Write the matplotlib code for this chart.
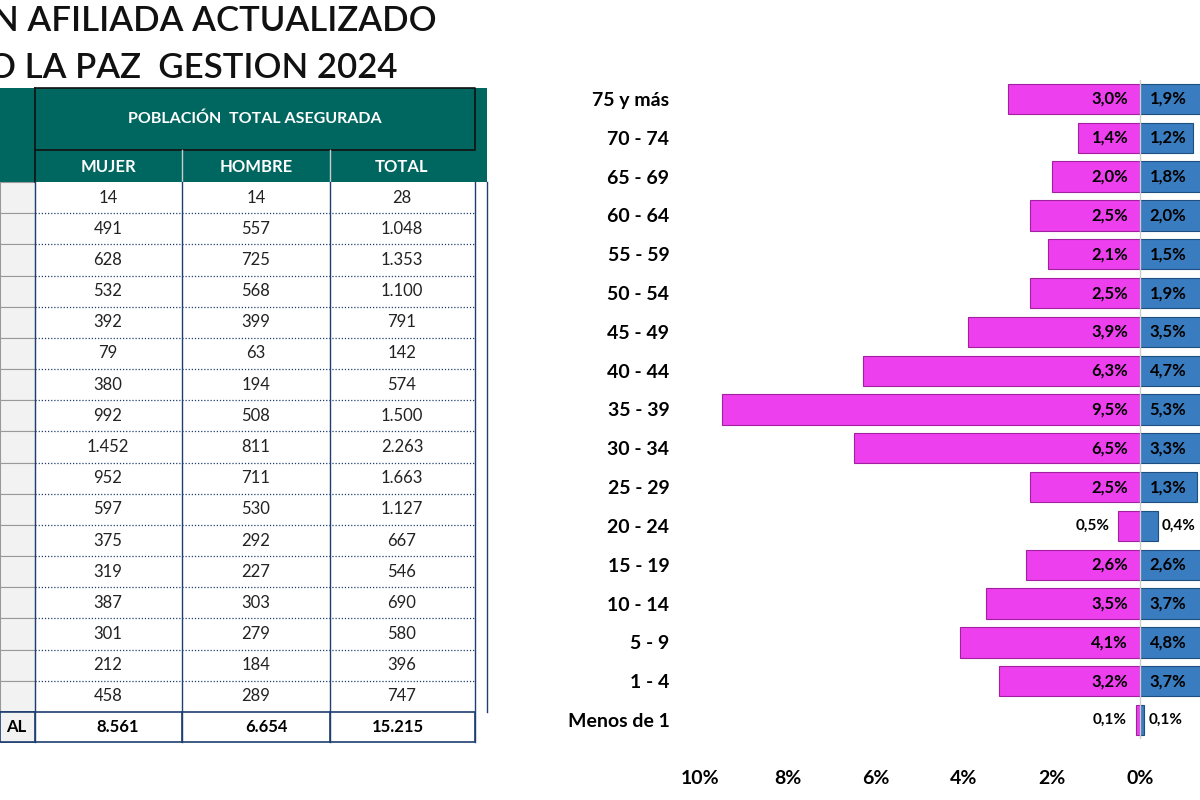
import matplotlib
matplotlib.use("Agg")
import matplotlib.pyplot as plt
from matplotlib.patches import Rectangle

plt.rcParams["font.family"] = "Lato"

AGE_GROUPS = ["75 y más", "70 - 74", "65 - 69", "60 - 64", "55 - 59", "50 - 54", "45 - 49",
              "40 - 44", "35 - 39", "30 - 34", "25 - 29", "20 - 24", "15 - 19", "10 - 14",
              "5 - 9", "1 - 4", "Menos de 1"]
WOMEN_PCT = [3.0, 1.4, 2.0, 2.5, 2.1, 2.5, 3.9, 6.3, 9.5, 6.5, 2.5, 0.5, 2.6, 3.5, 4.1, 3.2, 0.1]
MEN_PCT = [1.9, 1.2, 1.8, 2.0, 1.5, 1.9, 3.5, 4.7, 5.3, 3.3, 1.3, 0.4, 2.6, 3.7, 4.8, 3.7, 0.1]

TABLE_MUJER = [14, 491, 628, 532, 392, 79, 380, 992, 1452, 952, 597, 375, 319, 387, 301, 212, 458]
TABLE_HOMBRE = [14, 557, 725, 568, 399, 63, 194, 508, 811, 711, 530, 292, 227, 303, 279, 184, 289]
TABLE_TOTAL = [28, 1048, 1353, 1100, 791, 142, 574, 1500, 2263, 1663, 1127, 667, 546, 690, 580, 396, 747]
TOTALS = [8561, 6654, 15215]

TEAL = "#006660"
PINK = "#EE3FEE"
BLUE = "#3A7CC0"


def fmt_int(v):
    return f"{v:,}".replace(",", ".")


def fmt_pct(v):
    return f"{v:.1f}%".replace(".", ",")


fig = plt.figure(figsize=(12, 8), dpi=100)

# pixel-coordinate overlay for title and table
ov = fig.add_axes([0, 0, 1, 1])
ov.set_xlim(0, 1200)
ov.set_ylim(800, 0)
ov.axis("off")

# the reference is cropped on the left, so the titles are cut at the edge
ov.text(-8, 21, "N AFILIADA ACTUALIZADO", fontsize=25, fontweight="semibold",
        ha="left", va="center", color="#111")
ov.text(-12, 68, "O LA PAZ  GESTION 2024", fontsize=25, fontweight="semibold",
        ha="left", va="center", color="#111")

# header
ov.add_patch(Rectangle((0, 88), 487, 94, facecolor=TEAL, edgecolor="none"))
ov.plot([35, 35], [88, 182], color="#111", lw=1.2)
ov.plot([35, 475, 475, 35], [88, 88, 150, 150], color="#111", lw=1.2)
ov.text(255, 119, "POBLACIÓN  TOTAL ASEGURADA", color="white", fontsize=11.5, fontweight="bold",
        ha="center", va="center")
for x0 in (182, 330):
    ov.plot([x0, x0], [150, 182], color="#ccc", lw=1)
for xc, lab in zip((108, 256, 402), ("MUJER", "HOMBRE", "TOTAL")):
    ov.text(xc, 167, lab, color="white", fontsize=12, fontweight="bold", ha="center", va="center")

row_h = (712 - 182) / len(TABLE_MUJER)
for i in range(len(TABLE_MUJER)):
    y0 = 182 + i * row_h
    ov.add_patch(Rectangle((0, y0), 35, row_h, facecolor="#f2f2f2", edgecolor="#999", lw=0.8))
    yc = y0 + row_h / 2
    for xc, v in zip((108, 256, 402), (TABLE_MUJER[i], TABLE_HOMBRE[i], TABLE_TOTAL[i])):
        ov.text(xc, yc, fmt_int(v), fontsize=12, ha="center", va="center", color="#222")
    if i < len(TABLE_MUJER) - 1:
        ov.plot([35, 475], [y0 + row_h, y0 + row_h], color="#1f3f6f", lw=0.9, ls=(0, (1, 1.5)))
for x0 in (35, 182, 330, 475):
    ov.plot([x0, x0], [182, 742], color="#1f3f6f", lw=1)
ov.plot([487, 487], [182, 712], color="#1f3f6f", lw=1)
ov.add_patch(Rectangle((0, 712), 475, 30, facecolor="white", edgecolor="#1f3f6f", lw=1.2))
ov.add_patch(Rectangle((0, 712), 35, 30, facecolor="#f2f2f2", edgecolor="#1f3f6f", lw=1.2))
ov.text(16, 727, "AL", fontsize=12, fontweight="bold", ha="center", va="center")
for xc, v in zip((118, 266, 398), TOTALS):
    ov.text(xc, 727, fmt_int(v), fontsize=12, fontweight="bold", ha="center", va="center")
for x0 in (182, 330):
    ov.plot([x0, x0], [712, 742], color="#1f3f6f", lw=1.2)

# pyramid (extends past the right edge, as in the cropped reference)
ax = fig.add_axes([700 / 1200, 60.6 / 800, 500 / 1200, 659.8 / 800])
ys = list(range(len(AGE_GROUPS)))
women = [-v for v in WOMEN_PCT]
ax.barh(ys, women, height=0.78, color="#bbbbbb", left=0.08, zorder=1)
ax.barh(ys, women, height=0.78, color=PINK, edgecolor="#a020a0", lw=0.8, zorder=2)
ax.barh(ys, MEN_PCT, height=0.78, color=BLUE, edgecolor="#1d4f80", lw=0.8, zorder=2)
ax.axvline(0, color="#cccccc", lw=1, zorder=3)
for y, w, m in zip(ys, WOMEN_PCT, MEN_PCT):
    if w >= 1:
        ax.text(-0.27, y, fmt_pct(w), ha="right", va="center", fontsize=12, fontweight="bold", zorder=4)
    else:
        ax.text(-w - 0.2, y, fmt_pct(w), ha="right", va="center", fontsize=11, fontweight="bold", zorder=4)
    if m >= 1:
        ax.text(0.22, y, fmt_pct(m), ha="left", va="center", fontsize=12, fontweight="bold", zorder=4)
    else:
        ax.text(m + 0.1, y, fmt_pct(m), ha="left", va="center", fontsize=11, fontweight="bold", zorder=4)
ax.set_xlim(-10, 60 / 44)
ax.set_ylim(len(AGE_GROUPS) - 0.5, -0.5)
ax.set_yticks(ys, AGE_GROUPS)
ax.set_xticks([-10, -8, -6, -4, -2, 0], ["10%", "8%", "6%", "4%", "2%", "0%"])
for lab in ax.get_yticklabels() + ax.get_xticklabels():
    lab.set_fontweight("bold")
    lab.set_fontsize(14)
ax.tick_params(length=0, pad=22)
ax.tick_params(axis="x", pad=22)
for s in ax.spines.values():
    s.set_visible(False)

fig.savefig("out.png", dpi=100)
